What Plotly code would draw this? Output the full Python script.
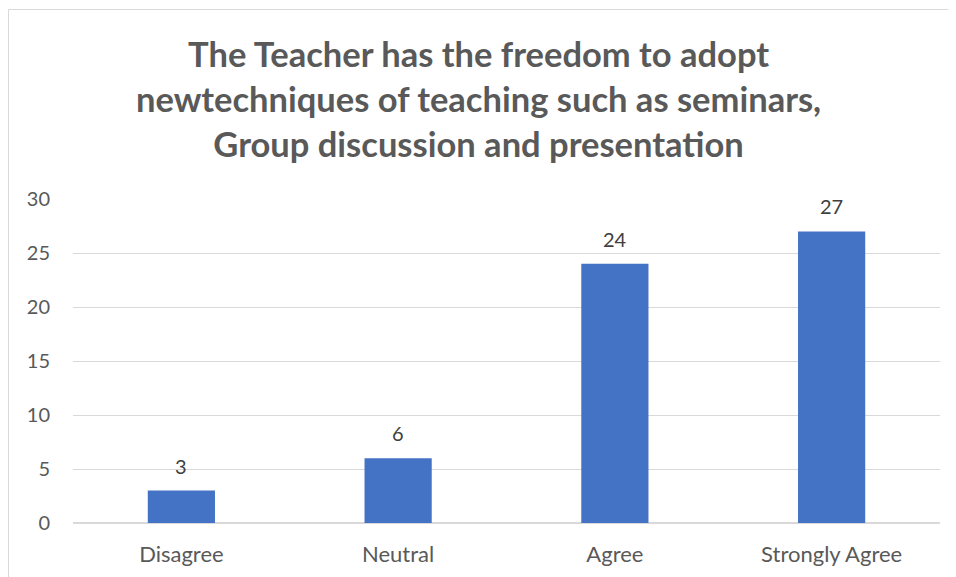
import plotly.graph_objects as go

categories = ["Disagree", "Neutral", "Agree", "Strongly Agree"]
values = [3, 6, 24, 27]
y_ticks = [0, 5, 10, 15, 20, 25, 30]

title_text = ("The Teacher has the freedom to adopt<br>"
              "newtechniques of teaching such as seminars,<br>"
              "Group discussion and presentation")

# page body has an 8px margin, so the figure sits 8px right/down
L, T, B, R = 65, 191, 62, 24
plot_h = 577 - T - B
plot_w = 956 - L - R

fig = go.Figure()
fig.add_trace(go.Bar(
    x=categories,
    y=values,
    marker=dict(color="#4472C4", line=dict(width=0)),
    hoverinfo="x+y",
))

# value labels
for c, v in zip(categories, values):
    fig.add_annotation(x=c, y=v, text=str(v), showarrow=False,
                       yanchor="bottom", yshift=11,
                       font=dict(size=20, color="#404040"))

fig.add_annotation(
    text=title_text, xref="paper", yref="paper",
    x=0.5 + (478 - 8 - L - plot_w / 2) / plot_w,
    y=1 + (T - 91) / plot_h,
    xanchor="center", yanchor="middle", showarrow=False,
    font=dict(size=34.5, color="#595959", family="Lato, sans-serif", weight="bold"),
)

fig.update_layout(
    width=956,
    height=577,
    paper_bgcolor="white",
    plot_bgcolor="white",
    font=dict(family="Lato, Open Sans, sans-serif", color="#595959"),
    margin=dict(l=L, r=R, t=T, b=B),
    bargap=0.69,
    showlegend=False,
)

fig.update_yaxes(
    range=[0, 30],
    tickvals=y_ticks,
    showgrid=True,
    gridcolor="#D9D9D9",
    gridwidth=1,
    zeroline=True,
    zerolinecolor="#D9D9D9",
    showline=False,
    tickfont=dict(size=20, color="#595959"),
    ticks="",
    ticklabelstandoff=22,
)
fig.update_xaxes(
    showline=False,
    tickfont=dict(size=22, color="#595959"),
    ticks="",
    ticklabelstandoff=16,
)

# chart border (cropped on right and bottom)
fig.add_shape(type="rect", xref="paper", yref="paper",
              x0=-(L - 0.5) / plot_w, x1=1.1, y0=-0.3, y1=1 + (T - 1.5) / plot_h,
              line=dict(color="#D9D9D9", width=1), layer="below")

fig.write_html("out.html")
